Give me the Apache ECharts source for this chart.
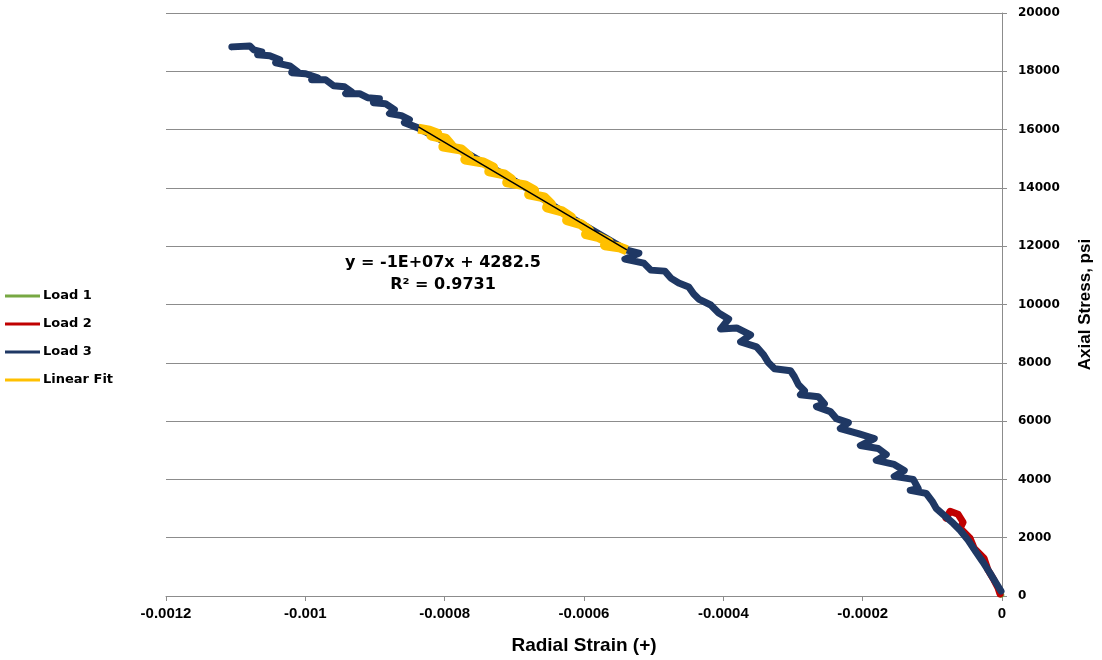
<!DOCTYPE html>
<html>
<head>
<meta charset="utf-8">
<script src="https://cdn.jsdelivr.net/npm/echarts@6/dist/echarts.min.js"></script>
<style>
  html, body { margin: 0; padding: 0; background: #fff; }
  #chart { width: 1102px; height: 660px; }
</style>
</head>
<body>
<div id="chart"></div>
<script>
// Radial strain (x) vs axial stress in psi (y) for each load cycle
const load1 = [
  [-0.0000010, 40], [-0.0000030, 150], [-0.0000050, 260]
];

const load2 = [
  [-0.0000802, 2667], [-0.0000745, 2906], [-0.0000630, 2803], [-0.0000558, 2530],
  [-0.0000601, 2325], [-0.0000458, 1983], [-0.0000401, 1641], [-0.0000258, 1299],
  [-0.0000200, 889], [-0.0000115, 547], [-0.0000057, 274], [-0.0000029, 68]
];

const load3 = [
  [-0.0011055, 18838], [-0.0010797, 18872], [-0.0010740, 18735], [-0.0010625, 18667],
  [-0.0010683, 18564], [-0.0010511, 18530], [-0.0010368, 18393], [-0.0010425, 18291],
  [-0.0010224, 18188], [-0.0010110, 17983], [-0.0010196, 17949], [-0.0009995, 17915],
  [-0.0009823, 17778], [-0.0009909, 17709], [-0.0009709, 17709], [-0.0009594, 17504],
  [-0.0009437, 17470], [-0.0009336, 17299], [-0.0009422, 17231], [-0.0009222, 17231],
  [-0.0009107, 17094], [-0.0008936, 17060], [-0.0009021, 16923], [-0.0008850, 16889],
  [-0.0008721, 16684], [-0.0008792, 16547], [-0.0008621, 16479], [-0.0008506, 16342],
  [-0.0008578, 16239], [-0.0008391, 16068], [-0.0007647, 15145], [-0.0006931, 14154],
  [-0.0006143, 12923], [-0.0005384, 11863], [-0.0005212, 11761], [-0.0005413, 11556],
  [-0.0005141, 11419], [-0.0005041, 11179], [-0.0004840, 11145], [-0.0004754, 10906],
  [-0.0004640, 10735], [-0.0004496, 10598], [-0.0004425, 10359], [-0.0004353, 10188],
  [-0.0004181, 9983], [-0.0004067, 9709], [-0.0003924, 9504], [-0.0004038, 9162],
  [-0.0003809, 9197], [-0.0003609, 8957], [-0.0003752, 8718], [-0.0003523, 8547],
  [-0.0003422, 8274], [-0.0003351, 8000], [-0.0003265, 7795], [-0.0003036, 7726],
  [-0.0002979, 7521], [-0.0002921, 7248], [-0.0002835, 7043], [-0.0002893, 6906],
  [-0.0002635, 6838], [-0.0002549, 6598], [-0.0002663, 6496], [-0.0002463, 6325],
  [-0.0002377, 6085], [-0.0002205, 5949], [-0.0002320, 5744], [-0.0002062, 5573],
  [-0.0001833, 5402], [-0.0002033, 5162], [-0.0001776, 5060], [-0.0001661, 4855],
  [-0.0001804, 4650], [-0.0001547, 4513], [-0.0001403, 4308], [-0.0001547, 4103],
  [-0.0001274, 4000], [-0.0001203, 3692], [-0.0001317, 3624], [-0.0001088, 3521],
  [-0.0001002, 3248], [-0.0000945, 3009], [-0.0000831, 2769], [-0.0000702, 2496],
  [-0.0000601, 2256], [-0.0000487, 1915], [-0.0000372, 1504], [-0.0000272, 1162],
  [-0.0000172, 786], [-0.0000086, 444], [-0.0000014, 171]
];

// Portion of load 3 used for the linear regression
const linearFit = [
  [-0.0008377, 16034], [-0.0008220, 15966], [-0.0008105, 15863], [-0.0008191, 15795],
  [-0.0007990, 15692], [-0.0007905, 15453], [-0.0008019, 15419], [-0.0007761, 15316],
  [-0.0007647, 15077], [-0.0007704, 14974], [-0.0007446, 14872], [-0.0007303, 14701],
  [-0.0007360, 14564], [-0.0007146, 14462], [-0.0007045, 14291], [-0.0007103, 14188],
  [-0.0006845, 14085], [-0.0006716, 13915], [-0.0006788, 13778], [-0.0006573, 13675],
  [-0.0006473, 13436], [-0.0006530, 13333], [-0.0006315, 13197], [-0.0006186, 12991],
  [-0.0006243, 12889], [-0.0006043, 12752], [-0.0005928, 12547], [-0.0005971, 12410],
  [-0.0005785, 12308], [-0.0005642, 12137], [-0.0005699, 12034], [-0.0005499, 11966],
  [-0.0005384, 11863]
];

// Trendline y = slope * x + intercept over the fitted range
const trendSlope = -1.41e7;
const trendIntercept = 4282.5;
const trendR2 = 0.9731;
const trendRange = [-0.0008377, -0.0005384];

const xTicks = { min: -0.0012, max: 0, interval: 0.0002 };
const yTicks = { min: 0, max: 20000, interval: 2000 };

const trendLine = trendRange.map(x => [x, trendSlope * x + trendIntercept]);

// Excel-style "0E+00" formatting of the slope
function sci(v) {
  const e = Math.floor(Math.log10(Math.abs(v)));
  const m = Math.round(v / Math.pow(10, e));
  const es = (e >= 0 ? '+' : '-') + String(Math.abs(e)).padStart(2, '0');
  return m + 'E' + es;
}
const eqText = 'y = ' + sci(trendSlope) + 'x + ' + trendIntercept;
const r2Text = 'R² = ' + trendR2;

const gridColor = '#8c8c8c';
const bold = 'bold';
const wideFont = '"DejaVu Sans", Verdana, sans-serif';
const narrowFont = '"Liberation Sans Narrow", "Liberation Sans", Arial, sans-serif';

const chart = echarts.init(document.getElementById('chart'), null, { renderer: 'canvas' });

chart.setOption({
  animation: false,
  backgroundColor: '#ffffff',
  grid: { left: 166, right: 96, top: 13, bottom: 62 },
  legend: {
    orient: 'vertical',
    left: 5,
    top: 288,
    padding: 0,
    icon: 'rect',
    itemWidth: 35,
    itemHeight: 3,
    itemGap: 12,
    data: ['Load 1', 'Load 2', 'Load 3', 'Linear Fit'],
    textStyle: { fontFamily: wideFont, fontWeight: bold, fontSize: 13, color: '#000', lineHeight: 16, padding: [0, 0, 0, -2] }
  },
  xAxis: {
    type: 'value',
    min: xTicks.min,
    max: xTicks.max,
    interval: xTicks.interval,
    name: 'Radial Strain (+)',
    nameLocation: 'middle',
    nameGap: 40,
    nameTextStyle: { fontFamily: narrowFont, fontWeight: bold, fontSize: 19, color: '#000' },
    axisLine: { show: true, onZero: false, lineStyle: { color: gridColor, width: 1 } },
    axisTick: { show: true, inside: false, length: 5, lineStyle: { color: gridColor } },
    axisLabel: {
      margin: 10,
      fontFamily: narrowFont, fontWeight: bold, fontSize: 15, color: '#000',
      formatter: v => String(parseFloat(Number(v).toPrecision(6)))
    },
    splitLine: { show: false }
  },
  yAxis: {
    type: 'value',
    position: 'right',
    min: yTicks.min,
    max: yTicks.max,
    interval: yTicks.interval,
    name: 'Axial Stress, psi',
    nameLocation: 'middle',
    nameRotate: 90,
    nameGap: 75,
    nameTextStyle: { fontFamily: narrowFont, fontWeight: bold, fontSize: 17, color: '#000' },
    axisLine: { show: true, lineStyle: { color: gridColor, width: 1 } },
    axisTick: { show: true, length: 5, lineStyle: { color: gridColor } },
    axisLabel: {
      margin: 16, fontFamily: wideFont, fontWeight: bold, fontSize: 12, color: '#000',
      formatter: v => String(v)
    },
    splitLine: { show: true, lineStyle: { color: gridColor, width: 1 } }
  },
  series: [
    {
      name: 'Load 1', type: 'line', data: load1, showSymbol: false, symbol: 'none',
      lineStyle: { color: '#77a843', width: 6, join: 'round', cap: 'round' },
      itemStyle: { color: '#77a843' }
    },
    {
      name: 'Load 2', type: 'line', data: load2, showSymbol: false, symbol: 'none',
      lineStyle: { color: '#c00000', width: 7, join: 'round', cap: 'round' },
      itemStyle: { color: '#c00000' }
    },
    {
      name: 'Load 3', type: 'line', data: load3, showSymbol: false, symbol: 'none',
      lineStyle: { color: '#1f3864', width: 7, join: 'round', cap: 'round' },
      itemStyle: { color: '#1f3864' }
    },
    {
      name: 'Linear Fit', type: 'line', data: linearFit, showSymbol: false, symbol: 'none',
      lineStyle: { color: '#ffc000', width: 10, join: 'round', cap: 'butt' },
      itemStyle: { color: '#ffc000' }
    },
    {
      name: 'Trend', type: 'line', data: trendLine, showSymbol: false, symbol: 'none',
      lineStyle: { color: '#000000', width: 1.5 },
      z: 5
    }
  ],
  graphic: [
    {
      type: 'text', x: 443, y: 255,
      style: { text: eqText, font: 'bold 16px ' + wideFont, fill: '#000', textAlign: 'center' }
    },
    {
      type: 'text', x: 443, y: 277,
      style: { text: r2Text, font: 'bold 16px ' + wideFont, fill: '#000', textAlign: 'center' }
    }
  ]
});
</script>
</body>
</html>
